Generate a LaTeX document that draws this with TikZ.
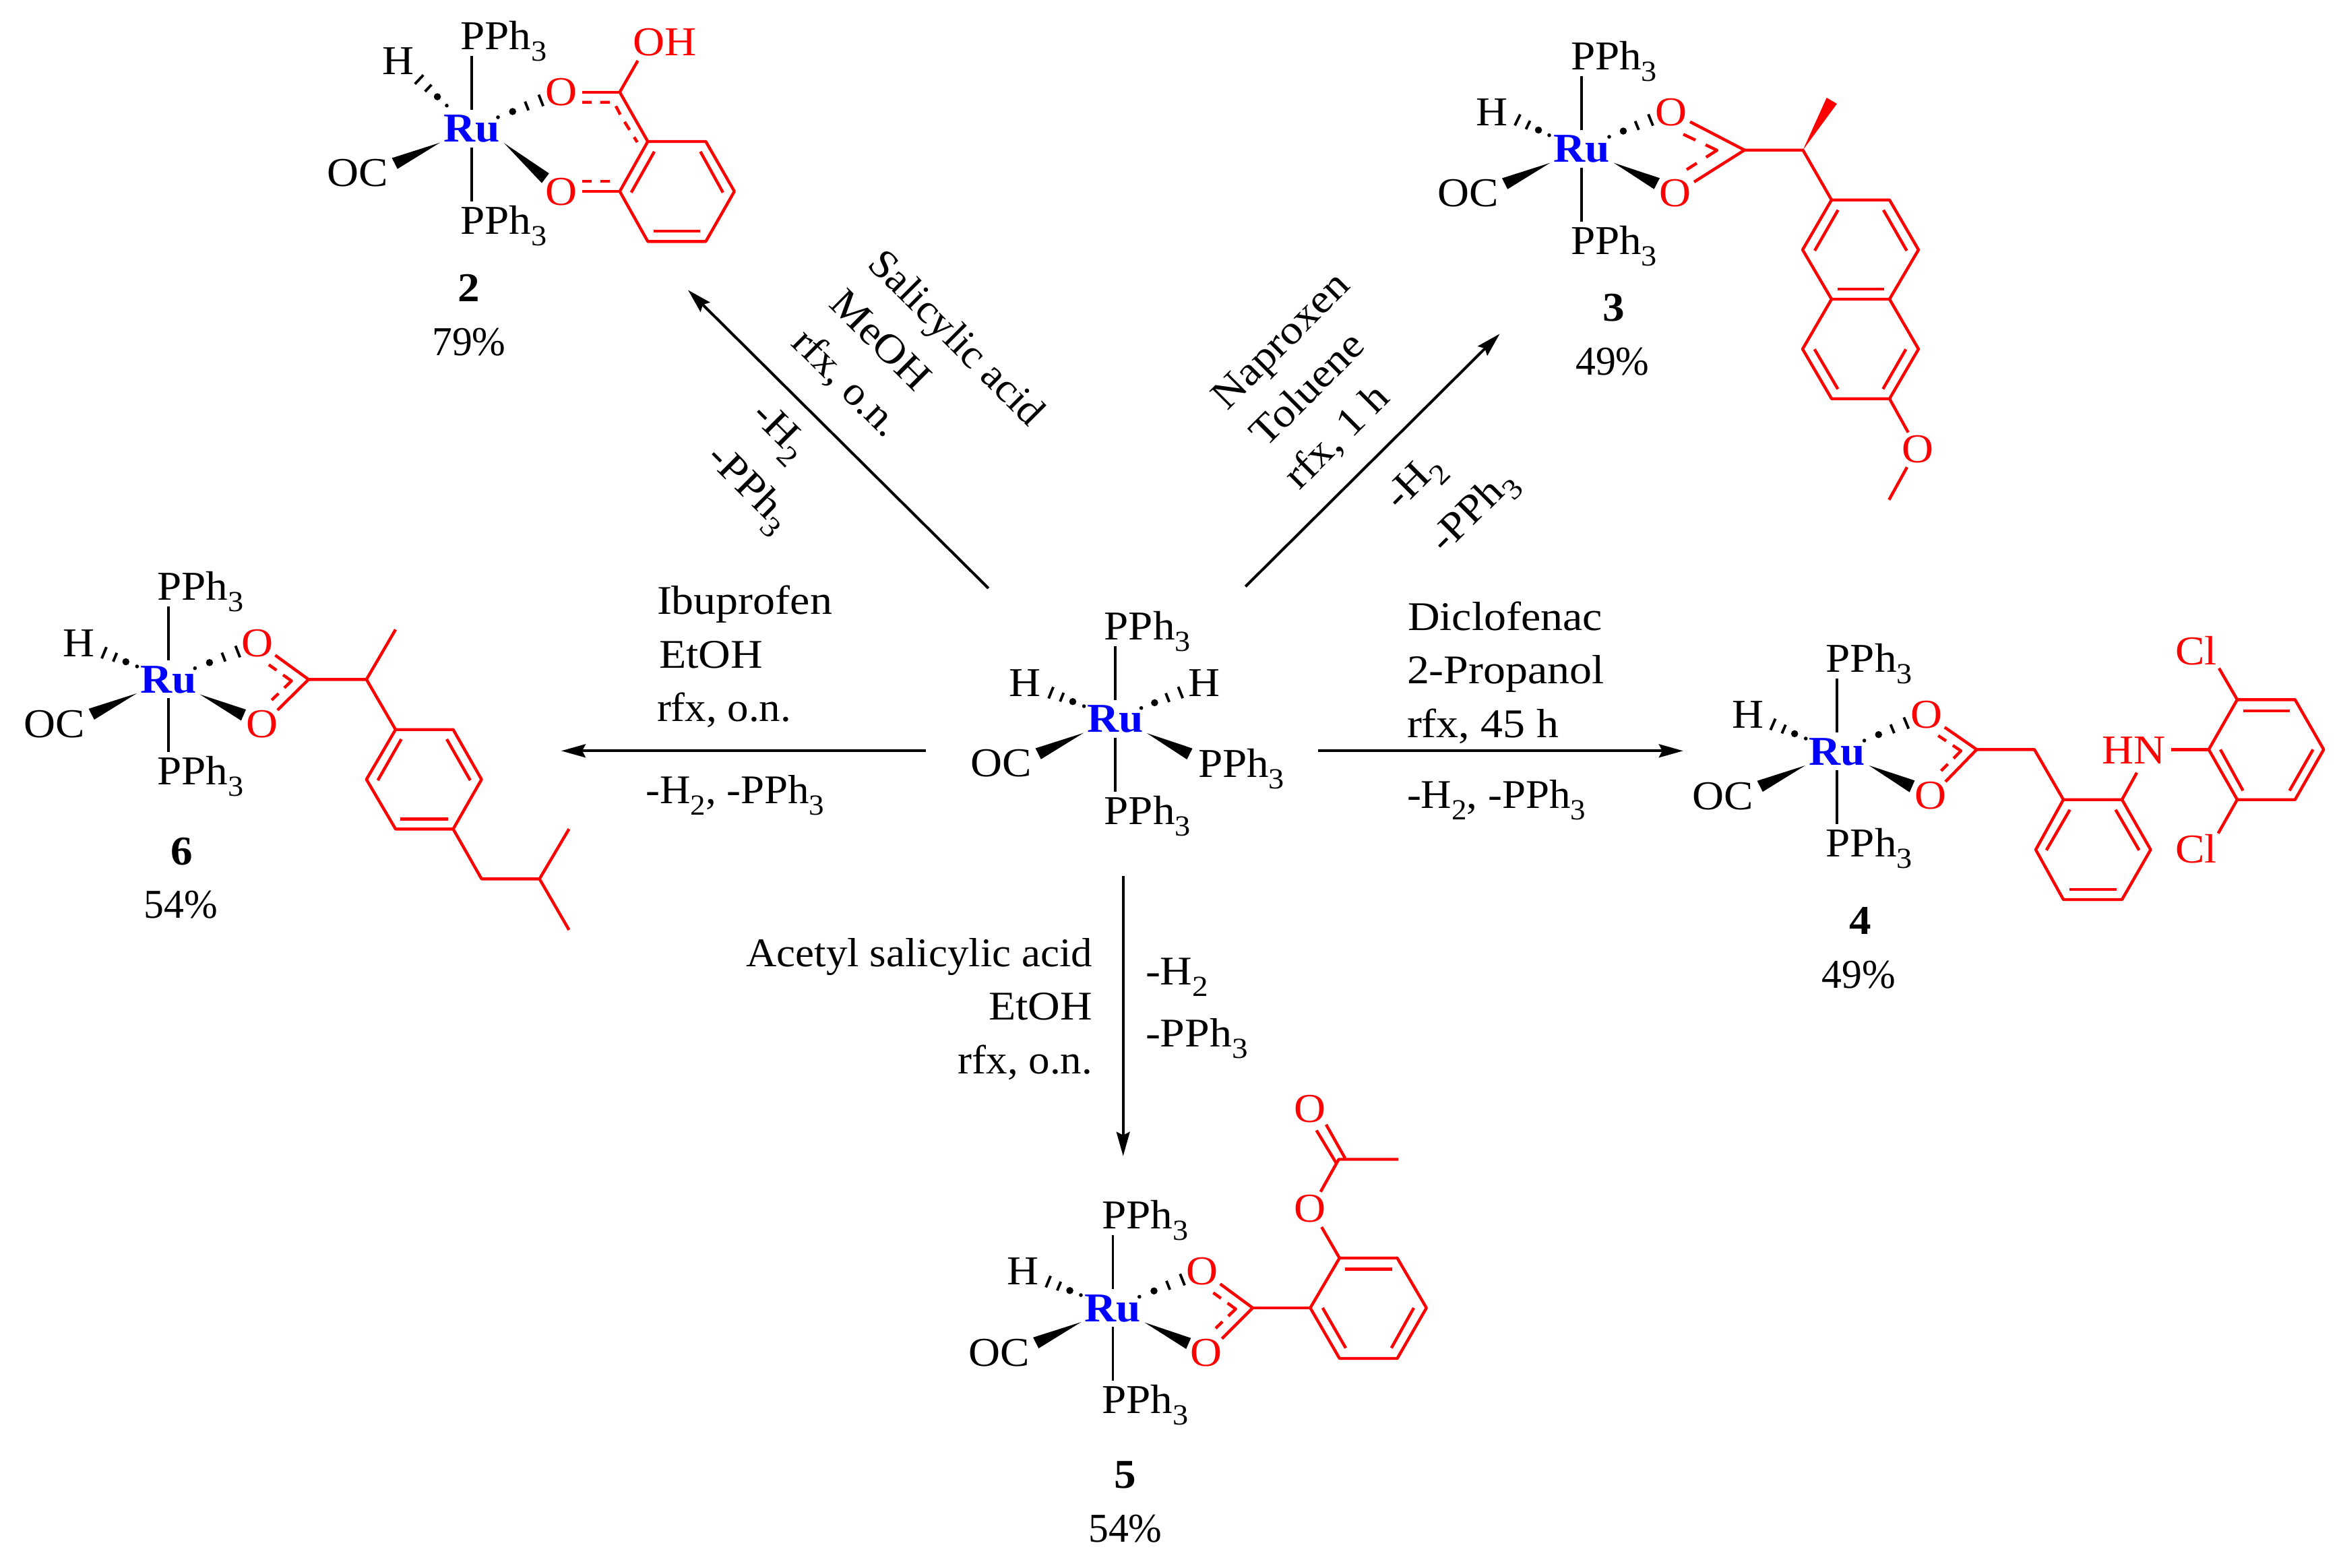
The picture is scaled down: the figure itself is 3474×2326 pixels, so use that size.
\documentclass[tikz,border=0pt]{standalone}
\usepackage{fontspec}
\usetikzlibrary{arrows.meta,calc}
\setmainfont{Liberation Serif}
\newfontfamily\chemf[FakeStretch=1.07]{Liberation Serif}
\newfontfamily\labf[FakeStretch=1.09]{Liberation Serif}
\newfontfamily\labn[FakeStretch=1.04]{Liberation Serif}
\newfontfamily\pctf[FakeStretch=0.98]{Liberation Serif}
\definecolor{rd}{RGB}{255,0,0}
\definecolor{bl}{RGB}{0,0,255}
\newcommand{\subz}[1]{\raisebox{-4.9pt}{\fontsize{12.3pt}{12.3pt}\selectfont #1}}
\tikzset{
  chem/.style={font=\chemf\fontsize{17.3pt}{20pt}\selectfont,inner sep=0pt,outer sep=0pt,anchor=base},
  chemw/.style={chem,anchor=base west},
  redt/.style={chem,text=rd},
  redw/.style={chemw,text=rd},
  rutext/.style={font=\chemf\bfseries\fontsize{17.3pt}{20pt}\selectfont,text=bl,inner sep=0pt,outer sep=0pt,anchor=base},
  lab/.style={font=\labf\fontsize{17.2pt}{20pt}\selectfont,inner sep=0pt,outer sep=0pt,anchor=base west},
  labc/.style={lab,anchor=base},
  labe/.style={lab,anchor=base east},
  narrow/.style={font=\labn\fontsize{17.2pt}{20pt}\selectfont},
  num/.style={font=\chemf\bfseries\fontsize{17.3pt}{20pt}\selectfont,inner sep=0pt,outer sep=0pt,anchor=base},
  pct/.style={font=\pctf\fontsize{17.3pt}{20pt}\selectfont,inner sep=0pt,outer sep=0pt,anchor=base},
  kbond/.style={draw=black,line width=1.1pt},
  rbond/.style={draw=rd,line width=1.25pt,line join=round},
  rdash/.style={rbond,dash pattern=on 4pt off 3.6pt},
  cdashl/.style={rbond,dash pattern=on 5.7pt off 4.7pt on 10.8pt off 4.7pt on 5.7pt},
  cdashs/.style={rbond,dash pattern=on 4pt off 3.4pt on 8.6pt off 3.4pt on 4pt},
  rxn/.style={draw=black,line width=1.15pt,-{Stealth[length=10.2pt,width=5.6pt,inset=1.4pt]}},
}
\newcommand{\C}[2]{\coordinate (#1) at (#2);}
% hashed bond from the metal end to the far end
\newcommand{\hashb}[2]{%
  \coordinate (hA) at (#1);\coordinate (hB) at (#2);
  \fill[black] (hA) circle[radius=0.8pt];
  \fill[black] ($(hA)!.34!(hB)$) circle[radius=1.5pt];
  \coordinate (hP) at ($(hA)!.67!(hB)$);
  \draw[kbond] ($(hP)!2pt!90:(hB)$) -- ($(hP)!2pt!-90:(hB)$);
  \draw[kbond] ($(hB)!2.6pt!90:(hA)$) -- ($(hB)!2.6pt!-90:(hA)$);
}
% Ru centre with its two axial PPh3 and the CO wedge
\newcommand{\RuCore}[3]{%
  \begin{scope}[shift={(#2,#3)}]
    \node[rutext] (#1ru) at (0,20) {Ru};
    \node[chemw] (#1pa) at (-16.4,-117.5) {PPh\subz{3}};
    \node[chemw] (#1pb) at (-16.4,156.5) {PPh\subz{3}};
    \node[chem] (#1oc) at (-169,86) {OC};
    \coordinate (#1ta) at (0,-108);\coordinate (#1tb) at (0,-28);
    \coordinate (#1ba) at (0,28);\coordinate (#1bb) at (0,108);
    \draw[kbond] (#1ta) -- (#1tb);
    \draw[kbond] (#1ba) -- (#1bb);
    \fill[black] (-47,21) -- (-118.4,43.8) -- (-110.2,60) -- cycle;
  \end{scope}}
\begin{document}
\begin{tikzpicture}[x=0.01cm,y=-0.01cm]
\fill[white] (0,0) rectangle (3474,2326);
\useasboundingbox (0,0) rectangle (3474,2326);

% ---------- central complex
\RuCore{c}{1655}{1066.7}
\node[chem] (cH1) at (1521,1033) {H};
\node[chem] (cH2) at (1787,1033) {H};
\node[chemw] (cP3) at (1778,1153) {PPh\subz{3}};
\hashb{1608.6,1048}{1559.6,1028}
\hashb{1693.6,1050.7}{1751.8,1027.7}
\fill[black] (1701.8,1088) -- (1769.6,1110.7) -- (1761.4,1127) -- cycle;

% ---------- complex 2
\RuCore{b}{700}{190.7}
\node[chem] (bH) at (590.7,110) {H};
\hashb{663,156.7}{622,118}
\hashb{739,174}{802.8,149}
\fill[black] (747.9,212.3) -- (814.8,257.3) -- (804,271.7) -- cycle;
\node[redt] (bO1) at (832.7,156.7) {O};
\node[redt] (bO2) at (832.7,304) {O};
\node[redw] (bOH) at (939,82.7) {OH};
\C{b1}{919.7,136.7}\C{b2}{961.3,210}\C{b3}{1047.4,210}\C{b4}{1089.8,284}\C{b5}{1047.4,358.3}\C{b6}{961.3,358.3}\C{b7}{919.7,284}
\draw[rbond] (b2)--(b3)--(b4)--(b5)--(b6)--(b7)--cycle;
\draw[rbond] (946.5,90)--(b1)--(b2);
\draw[rbond] (864,136.7)--(b1);
\draw[rbond] (864,284)--(b7);
\draw[rdash] (864,151.7)--(911,151.7)--(922,173)--(945.7,211);
\draw[rdash] (864,269)--(911,269);
\draw[rbond] (971,225)--(936.7,285.7);
\draw[rbond] (1039.4,225)--(1072.9,285.7);
\draw[rbond] (970,342.7)--(1039.4,342.7);
\node[num] (bn) at (696,447) {2};
\node[pct] (bp) at (696,527) {79\%};

% ---------- complex 3
\RuCore{d}{2347.4}{220.7}
\node[chem] (dH) at (2214,186.7) {H};
\hashb{2299,200.7}{2252,178}
\hashb{2388,203}{2449.5,178}
\fill[black] (2394.9,241.7) -- (2463,264.3) -- (2454.6,280.7) -- cycle;
\node[redt] (dO1) at (2480,186) {O};
\node[redt] (dO2) at (2486,306) {O};
\C{d1}{2588.8,222.7}\C{d2}{2675.5,222.7}
\C{d3}{2718,296.7}\C{d4}{2804,296.7}\C{d5}{2847,370.7}\C{d6}{2804,444}\C{d7}{2718,444}\C{d8}{2675,370.7}
\C{d10}{2847,518}\C{d11}{2804,591.7}\C{d12}{2718,591.7}\C{d13}{2675,518}
\draw[rbond] (d3)--(d4)--(d5)--(d6)--(d7)--(d8)--cycle;
\draw[rbond] (d6)--(d10)--(d11)--(d12)--(d13)--(d7);
\draw[rbond] (2508,180.7)--(d1)--(2514,270);
\draw[rbond] (d1)--(d2)--(d3);
\fill[rd] (d2) -- (2710.7,145) -- (2726,154) -- cycle;
\draw[cdashl] (2498,199.3)--(2548,223)--(2503,251.7);
\draw[rbond] (2727.6,311.7)--(2693,372);
\draw[rbond] (2795,311.7)--(2829.6,372);
\draw[rbond] (2726.5,429)--(2796.4,429);
\draw[rbond] (2692.7,518.3)--(2727.3,577.3);
\draw[rbond] (2828.3,518.3)--(2794.3,577.3);
\node[redt] (dO3) at (2845.7,686.7) {O};
\draw[rbond] (d11)--(2831.7,641.7);
\draw[rbond] (2830,693.3)--(2803.3,741.7);
\node[num] (dn) at (2394.4,476.7) {3};
\node[pct] (dp) at (2393,556) {49\%};

% ---------- complex 4
\RuCore{e}{2726}{1115}
\node[chem] (eH) at (2593.5,1080.7) {H};
\hashb{2679.7,1096}{2631,1075}
\hashb{2766.6,1099}{2828.8,1073}
\fill[black] (2773.6,1136) -- (2841.4,1158.3) -- (2833.8,1175.7) -- cycle;
\node[redt] (eO1) at (2859,1080) {O};
\node[redt] (eO2) at (2865,1200.7) {O};
\C{e1}{2933.4,1112.3}\C{e2}{3019,1112.3}
\C{a1}{3062,1186.7}\C{a2}{3149,1186.7}\C{a3}{3191.5,1261}\C{a4}{3149,1335}\C{a5}{3062,1335}\C{a6}{3021,1261}
\C{g1}{3277.7,1112.3}\C{g2}{3320,1038.3}\C{g3}{3405.8,1038.3}\C{g4}{3448.3,1112.3}\C{g5}{3405.8,1186.7}\C{g6}{3320,1186.7}
\draw[rbond] (2885.8,1079.3)--(e1)--(2887,1160);
\draw[rbond] (e1)--(e2)--(a1);
\draw[cdashs] (2876.3,1091.7)--(2910,1114.3)--(2876.3,1148.3);
\draw[rbond] (a1)--(a2)--(a3)--(a4)--(a5)--(a6)--cycle;
\draw[rbond] (3071.6,1201.7)--(3036.8,1261.7);
\draw[rbond] (3139.5,1201.7)--(3174.4,1261.7);
\draw[rbond] (3071,1320)--(3140.7,1320);
\node[redw] (eHN) at (3119,1133.3) {HN};
\draw[rbond] (a2)--(3171,1146.7);
\draw[rbond] (3222,1112.3)--(g1);
\draw[rbond] (g1)--(g2)--(g3)--(g4)--(g5)--(g6)--cycle;
\draw[rbond] (3328.5,1055)--(3398,1055);
\draw[rbond] (3295,1112.3)--(3328.5,1173.3);
\draw[rbond] (3432.5,1112.3)--(3397.6,1173.3);
\node[redw] (eCl1) at (3228,986) {Cl};
\node[redw] (eCl2) at (3228,1280.7) {Cl};
\draw[rbond] (g2)--(3293,991.7);
\draw[rbond] (g6)--(3291.7,1236.7);
\node[num] (en) at (2761,1386.7) {4};
\node[pct] (ep) at (2758,1466) {49\%};

% ---------- complex 5
\RuCore{f}{1651.5}{1941}
\node[chem] (fH) at (1518,1906.5) {H};
\hashb{1604,1922}{1555.6,1902}
\hashb{1690.8,1924.4}{1754.6,1899}
\fill[black] (1698.5,1962.6) -- (1767.3,1985.7) -- (1760.2,2001.9) -- cycle;
\node[redt] (fO1) at (1784,1906.5) {O};
\node[redt] (fO2) at (1790,2027) {O};
\C{f1}{1859,1941}\C{f2}{1944.4,1941}\C{r1}{1987.8,1867}\C{r2}{2073.5,1867}\C{r3}{2116.8,1941}\C{r4}{2073.5,2016}\C{r5}{1987.8,2016}
\draw[rbond] (1810.7,1905.4)--(f1)--(1813.3,1986.7);
\draw[rbond] (f1)--(f2);
\draw[cdashs] (1800.5,1918.5)--(1833.7,1942.6)--(1801.5,1973.6);
\draw[rbond] (f2)--(r1)--(r2)--(r3)--(r4)--(r5)--cycle;
\draw[rbond] (1996,1883.4)--(2065.8,1883.4);
\draw[rbond] (1962.8,1941)--(1997,2000.5);
\draw[rbond] (2098,1941)--(2064.8,2000.5);
\node[redt] (fO3) at (1944,1813.5) {O};
\node[redt] (fO4) at (1944,1665.4) {O};
\C{f3}{1986.7,1720.5}
\draw[rbond] (r1)--(1961.2,1821);
\draw[rbond] (1959.7,1768.7)--(f3)--(2075,1720.5);
\draw[rbond] (1967.9,1668.9)--(1996,1718.8);
\draw[rbond] (1953.6,1677.5)--(1982.7,1725.7);
\node[num] (fn) at (1670,2208) {5};
\node[pct] (fp) at (1670,2288) {54\%};

% ---------- complex 6
\RuCore{h}{250}{1008}
\node[chem] (hH) at (116.6,974.3) {H};
\hashb{203.4,989}{154.5,968.7}
\hashb{289.3,991.7}{352.8,967}
\fill[black] (296.6,1030.5) -- (365,1053) -- (357.9,1069.4) -- cycle;
\node[redt] (hO1) at (382,974.3) {O};
\node[redt] (hO2) at (388.8,1094.5) {O};
\C{h1}{457.9,1008.3}\C{h2}{543.8,1008.3}\C{h3}{587,934.3}
\C{t1}{587,1082.7}\C{t2}{672.5,1082.7}\C{t3}{714.6,1156.7}\C{t4}{672.5,1230.3}\C{t5}{587,1230.3}\C{t6}{543.8,1156.7}
\C{i1}{714.6,1304.3}\C{i2}{800.6,1304.3}\C{i3}{844.4,1230.3}\C{i4}{844.4,1380}
\draw[rbond] (408.4,972.4)--(h1)--(411.8,1053.8);
\draw[rbond] (h1)--(h2)--(t1);
\draw[rbond] (h2)--(h3);
\draw[cdashs] (398.9,986.5)--(432.6,1010.5)--(400,1042);
\draw[rbond] (t1)--(t2)--(t3)--(t4)--(t5)--(t6)--cycle;
\draw[rbond] (595.5,1097)--(560.7,1158);
\draw[rbond] (663,1097)--(697.8,1158);
\draw[rbond] (593.8,1215.5)--(664.6,1215.5);
\draw[rbond] (t4)--(i1)--(i2)--(i3);
\draw[rbond] (i2)--(i4);
\node[num] (hn) at (270,1283) {6};
\node[pct] (hp) at (268.5,1362.7) {54\%};

% ---------- reaction arrows
\C{nwS}{1466.8,873}\C{nwE}{1021,430.4}
\C{neS}{1848.3,870.4}\C{neE}{2225.6,495.4}
\C{wS}{1374,1114.3}\C{wE}{833,1114.3}
\C{eS}{1956,1114.3}\C{eE}{2497.7,1114.3}
\C{sS}{1666.7,1300}\C{sE}{1666.7,1715.7}
\draw[rxn] (nwS)--(nwE);
\draw[rxn] (neS)--(neE);
\draw[rxn] (wS)--(wE);
\draw[rxn] (eS)--(eE);
\draw[rxn] (sS)--(sE);

% ---------- reaction labels
\node[labc,narrow,rotate=-45] (l1a) at (1406.4,514.5) {Salicylic acid};
\node[labc,rotate=-45] (l1b) at (1293.5,518.4) {MeOH};
\node[labc,narrow,rotate=-45] (l1c) at (1243,581.5) {rfx, o.n.};
\node[lab,rotate=-45] (l1d) at (1113.6,618.6) {-H\subz{2}};
\node[lab,rotate=-45] (l1e) at (1046.7,681.8) {-PPh\subz{3}};

\node[labc,rotate=45] (l2a) at (1913.8,518.4) {Naproxen};
\node[labc,rotate=45] (l2b) at (1953.6,591) {Toluene};
\node[labc,rotate=45] (l2c) at (1996.8,660.7) {rfx, 1 h};
\node[lab,rotate=45] (l2d) at (2077,759) {-H\subz{2}};
\node[lab,rotate=45] (l2e) at (2144,823.4) {-PPh\subz{3}};

\node[lab] (l3a) at (975,911.7) {Ibuprofen};
\node[lab] (l3b) at (978,991.7) {EtOH};
\node[lab,narrow] (l3c) at (975,1070.7) {rfx, o.n.};
\node[lab,narrow] (l3d) at (958.3,1192.7) {-H\subz{2}, -PPh\subz{3}};

\node[lab] (l4a) at (2089,935) {Diclofenac};
\node[lab] (l4b) at (2088,1014.3) {2-Propanol};
\node[lab] (l4c) at (2088,1094.3) {rfx, 45 h};
\node[lab,narrow] (l4d) at (2088,1199.3) {-H\subz{2}, -PPh\subz{3}};

\node[labe,narrow] (l5a) at (1621,1434) {Acetyl salicylic acid};
\node[labe] (l5b) at (1621,1513.3) {EtOH};
\node[labe,narrow] (l5c) at (1621,1593.3) {rfx, o.n.};
\node[lab] (l5d) at (1700,1461) {-H\subz{2}};
\node[lab] (l5e) at (1700,1553.3) {-PPh\subz{3}};
\end{tikzpicture}
\end{document}
